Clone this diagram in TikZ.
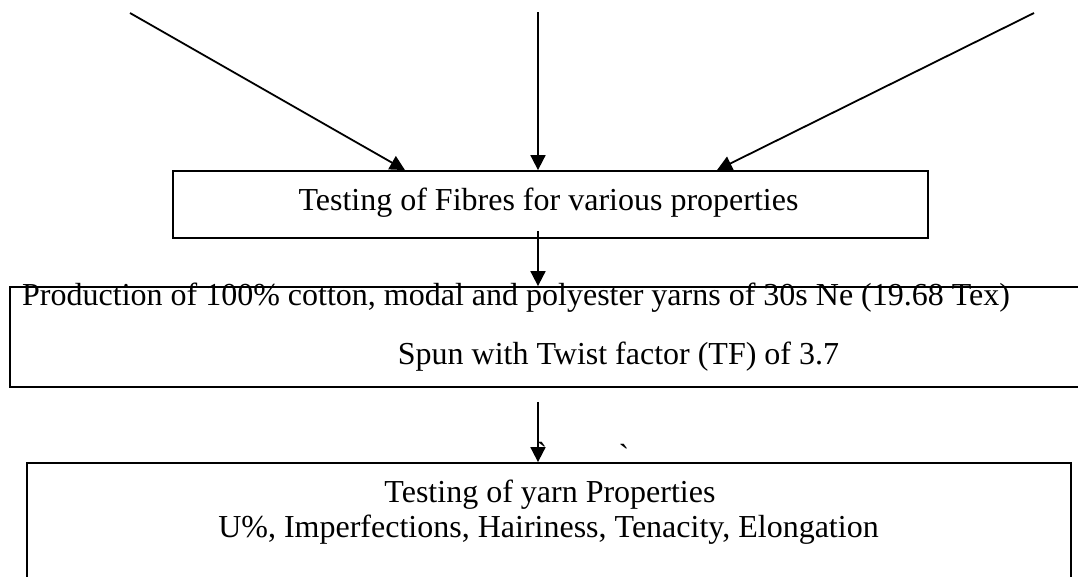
\documentclass[tikz,border=0pt]{standalone}
\usepackage{fontspec}
\setmainfont{Liberation Serif}
\usetikzlibrary{arrows.meta}
\begin{document}
\begin{tikzpicture}[x=1pt,y=-1pt,
  boxline/.style={draw=black, line width=1.8pt, inner sep=0pt},
  arr/.style={line width=1.8pt, -{Triangle[length=15pt,width=15pt]}},
  txt/.style={inner sep=0pt, anchor=base, font=\fontsize{32}{36}\selectfont},
  txtw/.style={inner sep=0pt, anchor=base west, font=\fontsize{32}{36}\selectfont}]
\useasboundingbox (0,0) rectangle (1078,576);
\clip (0,0) rectangle (1078,576);
\fill[white] (0,0) rectangle (1078,576);
% boxes
\node[boxline, minimum width=755pt, minimum height=67pt] (fibres) at (550.5,204.5) {};
\node[boxline, minimum width=1090pt, minimum height=100pt] (prod) at (555,337) {};
\node[boxline, minimum width=1044pt, minimum height=147pt] (yarn) at (549,536.5) {};
% texts
\node[txt] (t1) at (548.5,210) {Testing of Fibres for various properties};
\node[txtw] (t2) at (22,305) {Production of 100\% cotton, modal and polyester yarns of 30s Ne (19.68 Tex)};
\node[txt] (t3) at (618.5,364) {Spun with Twist factor (TF) of 3.7};
\node[txt] (t4) at (550,502) {Testing of yarn Properties};
\node[txt] (t5) at (548.5,537) {U\%, Imperfections, Hairiness, Tenacity, Elongation};
\node[txt] (g1) at (542,464) {\textasciigrave};
\node[txt] (g2) at (624,466) {\textasciigrave};
% arrow sources
\coordinate (s1) at (130,13);
\coordinate (s2) at (538,12);
\coordinate (s3) at (1034,13);
\coordinate (m) at (538,0);
\draw[arr] (s1) -- (fibres.north -| 405,0);
\draw[arr] (s2) -- (fibres.north -| m);
\draw[arr] (s3) -- (fibres.north -| 717,0);
\draw[arr] ([yshift=8pt]fibres.south -| m) -- (prod.north -| m);
\draw[arr] ([yshift=-14pt]prod.south -| m) -- (yarn.north -| m);
\end{tikzpicture}
\end{document}
